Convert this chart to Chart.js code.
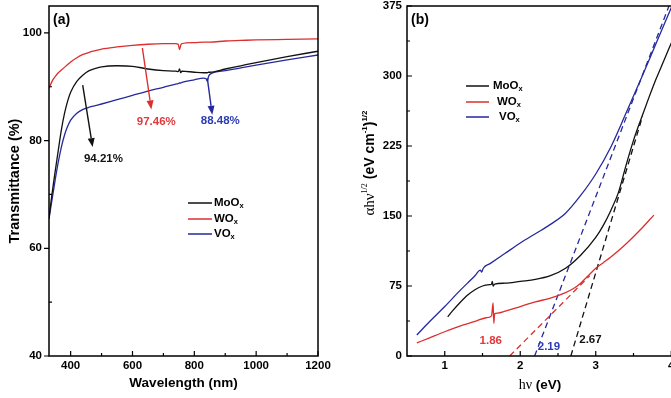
<!DOCTYPE html>
<html>
<head>
<meta charset="utf-8">
<script src="https://cdn.jsdelivr.net/npm/chart.js@4.4.1/dist/chart.umd.min.js"></script>
<style>
html, body { margin: 0; padding: 0; background: #fff; overflow: hidden; }
#wrap { position: relative; width: 671px; height: 398px; overflow: hidden; }
#chartA { position: absolute; left: 0; top: 0; }
#chartB { position: absolute; left: 340px; top: 0; }
</style>
</head>
<body>
<div id="wrap">
	<canvas id="chartA" width="340" height="398" style="width:340px;height:398px"></canvas>
	<canvas id="chartB" width="400" height="398" style="width:400px;height:398px"></canvas>
</div>
<script>
// ---- panel (a): transmittance ----
var wavelength = [330, 335, 340, 345, 350, 360, 370, 380, 390, 400, 420, 440, 460, 480, 500, 550, 600, 650, 700,
		740, 748, 752, 756, 760, 800, 830, 838, 842, 846, 850, 900, 950, 1000, 1100, 1200];
var transMoOx = [65.5, 68, 70.2, 72.3, 74.3, 78.2, 82, 85, 87.3, 89, 91.0, 92.2, 93.0, 93.4, 93.7, 93.9, 93.8, 93.3, 93.0,
		92.9, 92.8, 93.3, 92.6, 92.9, 92.7, 92.6, 92.6, 92.6, 92.7, 92.7, 93.3, 93.9, 94.5, 95.6, 96.6];
var transWOx = [89.7, 90.4, 91.0, 91.5, 91.9, 92.6, 93.1, 93.6, 94.1, 94.6, 95.4, 96.0, 96.4, 96.7, 97.0, 97.4, 97.7, 97.9, 98.0,
		98.0, 97.9, 96.9, 97.7, 98.0, 98.2, 98.3, 98.3, 98.3, 98.3, 98.3, 98.5, 98.6, 98.7, 98.8, 98.9];
var transVOx = [65.5, 67.3, 69.1, 70.9, 72.7, 76.0, 78.8, 81.0, 82.6, 83.8, 85.1, 85.8, 86.2, 86.5, 86.8, 87.6, 88.4, 89.2, 89.9,
		90.5, 90.6, 90.7, 90.7, 90.8, 91.3, 91.6, 91.5, 91.0, 91.9, 92.3, 93.0, 93.5, 94.0, 95.0, 95.9];
var waveTicks = [400, 500, 600, 700, 800, 900, 1000, 1100, 1200];
var waveLabels = [400, 600, 800, 1000, 1200];
var transTicks = [40, 50, 60, 70, 80, 90, 100];
var transLabels = [40, 60, 80, 100];
var avgLabels = ['94.21%', '97.46%', '88.48%'];

// ---- panel (b): Tauc plot ----
var energyMoOx = [1.04, 1.1, 1.2, 1.3, 1.4, 1.5, 1.6, 1.62, 1.63, 1.64, 1.66, 1.8, 2.0, 2.2, 2.4, 2.6, 2.8, 3.0, 3.1, 3.2,
		3.3, 3.4, 3.5, 3.6, 3.7, 3.8, 3.9, 4.0, 4.1, 4.2];
var taucMoOx = [42, 48, 57, 65, 71, 75, 76.5, 77, 80, 75, 77, 78, 80, 82, 86, 94, 108, 127, 140, 156,
		175, 204, 231, 254, 276, 297, 316, 335, 352, 366];
var energyWOx = [0.63, 0.8, 1.0, 1.2, 1.4, 1.55, 1.62, 1.64, 1.65, 1.66, 1.7, 1.8, 2.0, 2.2, 2.4, 2.6, 2.7, 2.8, 2.9,
		3.0, 3.1, 3.2, 3.4, 3.6, 3.77];
var taucWOx = [14, 19.5, 26, 32, 37, 41, 43, 57, 35, 45, 46, 48, 53, 58, 62, 68, 72, 78, 86,
		94, 100, 106, 120, 136, 151];
var energyVOx = [0.63, 0.8, 1.0, 1.2, 1.4, 1.47, 1.49, 1.51, 1.6, 1.8, 2.0, 2.2, 2.4, 2.6, 2.8, 3.0, 3.2, 3.4, 3.6,
		3.8, 4.0, 4.1];
var taucVOx = [22.5, 37, 53, 70, 86, 92, 90, 94, 99, 110, 121, 131, 141, 153, 172, 195, 224, 260, 297,
		335, 373, 392];
var fitEnergyMoOx = [2.67, 3.62];
var fitTaucMoOx = [0, 257];
var fitEnergyWOx = [1.86, 2.92];
var fitTaucWOx = [0, 86];
var fitEnergyVOx = [2.19, 3.97];
var fitTaucVOx = [0, 375];
var gapLabels = ['1.86', '2.19', '2.67'];
var energyTicks = [1, 1.5, 2, 2.5, 3, 3.5, 4, 4.5];
var energyLabels = [1, 2, 3, 4];
var taucTicks = [0, 37.5, 75, 112.5, 150, 187.5, 225, 262.5, 300, 337.5, 375];
var taucLabels = [0, 75, 150, 225, 300, 375];

var SANS = '"Liberation Sans", Arial, sans-serif';
var SERIF = '"Liberation Serif", "Times New Roman", serif';
var BLACK = '#111111', RED = '#dd2e2e', BLUE = '#26299e';
var RED_TXT = '#e0393c', BLUE_TXT = '#2c3cb5';

function pts(xs, ys) {
	return xs.map(function(v, i) { return { x : v, y : ys[i] }; });
}

function richText(ctx, parts, x, y, align) {
	var total = 0;
	parts.forEach(function(p) { ctx.font = p.font; total += ctx.measureText(p.t).width; });
	var cx = align === 'center' ? x - total / 2 : x;
	parts.forEach(function(p) {
		ctx.font = p.font;
		ctx.fillText(p.t, cx, y + (p.dy || 0));
		cx += ctx.measureText(p.t).width;
	});
}

function arrow(ctx, x1, y1, x2, y2, color) {
	var ang = Math.atan2(y2 - y1, x2 - x1), hl = 9, hw = 3.5;
	var bx = x2 - hl * Math.cos(ang), by = y2 - hl * Math.sin(ang);
	ctx.strokeStyle = color; ctx.fillStyle = color; ctx.lineWidth = 1.4;
	ctx.beginPath(); ctx.moveTo(x1, y1); ctx.lineTo(bx, by); ctx.stroke();
	ctx.beginPath(); ctx.moveTo(x2, y2);
	ctx.lineTo(bx - hw * Math.sin(ang), by + hw * Math.cos(ang));
	ctx.lineTo(bx + hw * Math.sin(ang), by - hw * Math.cos(ang));
	ctx.closePath(); ctx.fill();
}

// frame, ticks, legend and labels
var decor = {
	id : 'decor',
	afterDraw : function(chart, args, o) {
		var ctx = chart.ctx, a = chart.chartArea, sx = chart.scales.x, sy = chart.scales.y;
		ctx.save();
		ctx.strokeStyle = '#000'; ctx.lineWidth = 1.2;
		ctx.beginPath();
		sx.ticks.forEach(function(t) {
			var px = sx.getPixelForValue(t.value), len = o.xMajor.indexOf(t.value) >= 0 ? 5 : 3;
			ctx.moveTo(px, a.bottom); ctx.lineTo(px, a.bottom - len);
		});
		sy.ticks.forEach(function(t) {
			var py = sy.getPixelForValue(t.value), major = o.yMajor.indexOf(t.value) >= 0;
			if (o.yOut && major) { ctx.moveTo(a.left - 5, py); ctx.lineTo(a.left, py); }
			else { ctx.moveTo(a.left, py); ctx.lineTo(a.left + (major ? 5 : 3), py); }
		});
		ctx.stroke();
		ctx.lineWidth = 1.5;
		ctx.strokeRect(a.left, a.top, a.right - a.left, a.bottom - a.top);

		ctx.fillStyle = '#000';
		ctx.textBaseline = 'middle';
		ctx.textAlign = 'left';
		ctx.font = 'bold 14px ' + SANS;
		ctx.fillText(o.tag, a.left + 4, 20);

		// legend
		o.legend.forEach(function(l) {
			ctx.strokeStyle = l.color; ctx.lineWidth = 1.5;
			ctx.beginPath(); ctx.moveTo(l.x1, l.y); ctx.lineTo(l.x2, l.y); ctx.stroke();
			ctx.fillStyle = '#000';
			richText(ctx, [ { t : l.base, font : 'bold 11.5px ' + SANS },
					{ t : 'x', font : 'bold 7.5px ' + SANS, dy : 3 } ], l.tx, l.y, 'left');
		});

		// arrows and value labels, placed in data units
		(o.arrows || []).forEach(function(r) {
			arrow(ctx, sx.getPixelForValue(r.from[0]), sy.getPixelForValue(r.from[1]),
					sx.getPixelForValue(r.to[0]), sy.getPixelForValue(r.to[1]), r.color);
		});
		ctx.textAlign = 'center';
		(o.texts || []).forEach(function(t) {
			ctx.fillStyle = t.color;
			ctx.font = 'bold 11.5px ' + SANS;
			ctx.fillText(t.text, sx.getPixelForValue(t.at[0]), sy.getPixelForValue(t.at[1]));
		});
		ctx.textAlign = 'left';
		if (o.extra) o.extra(ctx, a);
		ctx.restore();
	}
};

function lineSet(label, data, color, dashed) {
	return {
		label : label,
		data : data,
		borderColor : color,
		backgroundColor : color,
		borderWidth : 1.3,
		borderDash : dashed ? [ 6, 4 ] : [],
		pointRadius : 0,
		fill : false,
		cubicInterpolationMode : dashed ? 'default' : 'monotone',
		tension : 0
	};
}

function axis(min, max, ticks, labels, fitSize, horizontal, pad) {
	return {
		type : 'linear',
		min : min,
		max : max,
		afterBuildTicks : function(s) { s.ticks = ticks.map(function(v) { return { value : v }; }); },
		afterFit : function(s) {
			if (horizontal) { s.height = fitSize; }
			else { s.width = fitSize; s.paddingTop = 0; s.paddingBottom = 0; }
		},
		grid : { display : false, drawTicks : false },
		border : { display : false },
		ticks : {
			autoSkip : false,
			maxRotation : 0,
			padding : pad,
			color : '#000',
			font : { family : SANS, size : 11.5, weight : 'bold' },
			callback : function(v) { return labels.indexOf(v) >= 0 ? String(v) : ''; }
		}
	};
}

var xA = axis(330, 1200, waveTicks, waveLabels, 42, true, 3);
xA.title = { display : true, text : 'Wavelength (nm)', color : '#000',
	font : { family : SANS, size : 13.5, weight : 'bold' }, padding : { top : 0, bottom : 7 } };
var yA = axis(40, 105, transTicks, transLabels, 49, false, 7);
yA.title = { display : true, text : 'Transmittance (%)', color : '#000',
	font : { family : SANS, size : 14.5, weight : 'bold' }, padding : { top : 6, bottom : 0 } };

new Chart(document.getElementById('chartA'), {
	type : 'line',
	data : {
		datasets : [ lineSet('MoOx', pts(wavelength, transMoOx), BLACK),
				lineSet('WOx', pts(wavelength, transWOx), RED),
				lineSet('VOx', pts(wavelength, transVOx), BLUE) ]
	},
	options : {
		responsive : false,
		animation : false,
		layout : { padding : { top : 6, right : 22, bottom : 0, left : 0 } },
		scales : { x : xA, y : yA },
		plugins : {
			legend : { display : false },
			tooltip : { enabled : false },
			decor : {
				tag : '(a)',
				xMajor : waveLabels, yMajor : transLabels, yOut : true,
				legend : [ { base : 'MoO', color : BLACK, x1 : 188, x2 : 212, tx : 214, y : 203 },
						{ base : 'WO', color : RED, x1 : 188, x2 : 212, tx : 214, y : 219 },
						{ base : 'VO', color : BLUE, x1 : 188, x2 : 212, tx : 214, y : 234 } ],
				arrows : [ { from : [ 439, 90.3 ], to : [ 471, 78.8 ], color : BLACK },
						{ from : [ 632, 97.2 ], to : [ 661, 85.8 ], color : RED },
						{ from : [ 842, 91.6 ], to : [ 858, 84.8 ], color : BLUE } ],
				texts : [ { text : avgLabels[0], at : [ 506, 76.6 ], color : BLACK },
						{ text : avgLabels[1], at : [ 677, 83.4 ], color : RED_TXT },
						{ text : avgLabels[2], at : [ 884, 83.7 ], color : BLUE_TXT } ]
			}
		}
	},
	plugins : [ decor ]
});

var xB = axis(0.5, 4.5, energyTicks, energyLabels, 42, true, 3);
var yB = axis(0, 375, taucTicks, taucLabels, 67, false, 5);

new Chart(document.getElementById('chartB'), {
	type : 'line',
	data : {
		datasets : [ lineSet('MoOx', pts(energyMoOx, taucMoOx), BLACK),
				lineSet('WOx', pts(energyWOx, taucWOx), RED),
				lineSet('VOx', pts(energyVOx, taucVOx), BLUE),
				lineSet('fit MoOx', pts(fitEnergyMoOx, fitTaucMoOx), BLACK, true),
				lineSet('fit WOx', pts(fitEnergyWOx, fitTaucWOx), RED, true),
				lineSet('fit VOx', pts(fitEnergyVOx, fitTaucVOx), BLUE, true) ]
	},
	options : {
		responsive : false,
		animation : false,
		layout : { padding : { top : 6, right : 31, bottom : 0, left : 0 } },
		scales : { x : xB, y : yB },
		plugins : {
			legend : { display : false },
			tooltip : { enabled : false },
			decor : {
				tag : '(b)',
				xMajor : energyLabels, yMajor : taucLabels, yOut : false,
				legend : [ { base : 'MoO', color : BLACK, x1 : 126, x2 : 149, tx : 153, y : 86 },
						{ base : 'WO', color : RED, x1 : 126, x2 : 149, tx : 157, y : 102 },
						{ base : 'VO', color : BLUE, x1 : 126, x2 : 149, tx : 159, y : 117 } ],
				texts : [ { text : gapLabels[0], at : [ 1.61, 16 ], color : RED_TXT },
						{ text : gapLabels[1], at : [ 2.38, 9.6 ], color : BLUE_TXT },
						{ text : gapLabels[2], at : [ 2.93, 17 ], color : BLACK } ],
				extra : function(ctx, a) {
					ctx.fillStyle = '#000';
					ctx.textBaseline = 'alphabetic';
					var sup = 'bold 8px ' + SANS;
					// y title
					ctx.save();
					ctx.translate(34, 163);
					ctx.rotate(-Math.PI / 2);
					richText(ctx, [ { t : 'αhν', font : '15px ' + SERIF },
							{ t : '1/2', font : '8px ' + SERIF, dy : -7 },
							{ t : ' (eV cm', font : 'bold 14px ' + SANS },
							{ t : '-1', font : sup, dy : -7 },
							{ t : ')', font : 'bold 14px ' + SANS },
							{ t : '1/2', font : sup, dy : -7 } ], 0, 0, 'center');
					ctx.restore();
					// x title
					richText(ctx, [ { t : 'hν', font : '14px ' + SERIF },
							{ t : ' (eV)', font : 'bold 13.5px ' + SANS } ], 200, 389, 'center');
				}
			}
		}
	},
	plugins : [ decor ]
});
</script>
</body>
</html>
